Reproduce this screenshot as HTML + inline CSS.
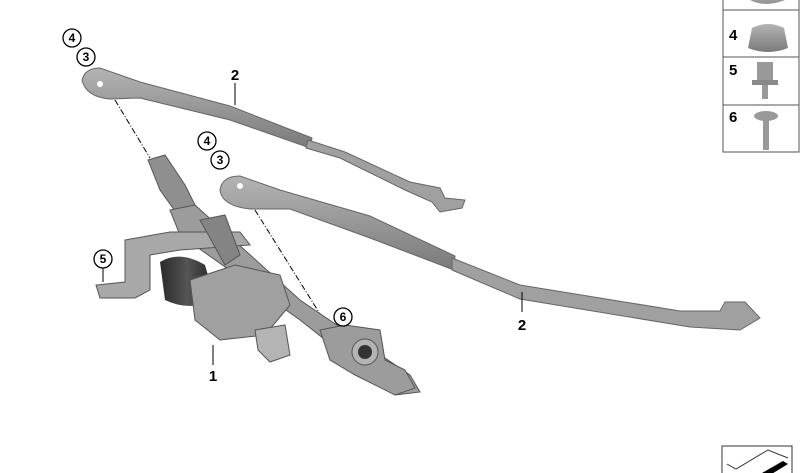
<!DOCTYPE html>
<html><head><meta charset="utf-8"><style>
html,body{margin:0;padding:0;background:#fff;}
svg{display:block}
text{font-family:"Liberation Sans",sans-serif;font-weight:bold;fill:#000}
</style></head><body>
<svg width="800" height="473" viewBox="0 0 800 473" xmlns="http://www.w3.org/2000/svg">
<defs>
<linearGradient id="g" x1="0" y1="0" x2="0" y2="1"><stop offset="0" stop-color="#b4b4b4"/><stop offset="1" stop-color="#7a7a7a"/></linearGradient>
<linearGradient id="m" x1="0" y1="0" x2="1" y2="0"><stop offset="0" stop-color="#2a2a2a"/><stop offset="0.5" stop-color="#555"/><stop offset="1" stop-color="#222"/></linearGradient>
</defs>
<!-- upper arm -->
<path d="M82,80 Q85,68 100,68 L140,82 L230,106 L312,138 L310,148 L230,120 L140,98 L110,99 Q86,97 82,80Z" fill="url(#g)" stroke="#666" stroke-width="1"/>
<path d="M308,140 L345,152 L410,182 L440,188 L445,198 L465,200 L462,208 L440,212 L432,202 L405,190 L340,158 L306,148Z" fill="#a0a0a0" stroke="#666"/>
<circle cx="100" cy="84" r="3" fill="#fff"/>
<!-- lower arm -->
<path d="M220,190 Q222,176 240,176 L280,190 L370,216 L455,256 L454,270 L370,238 L290,209 L250,209 Q222,206 220,190Z" fill="url(#g)" stroke="#666"/>
<path d="M452,258 L520,285 L680,311 L720,311 L725,302 L745,302 L760,318 L740,330 L690,327 L520,299 L452,270Z" fill="#a0a0a0" stroke="#666"/>
<circle cx="240" cy="186" r="3" fill="#fff"/>
<!-- dash-dot leader lines -->
<path d="M115,100 L150,158 M255,210 L330,330" stroke="#000" stroke-dasharray="6,2,1,2" stroke-width="1" fill="none"/>
<!-- linkage -->
<path d="M148,160 L165,155 L185,185 L200,215 L185,225 L160,190Z" fill="#8f8f8f" stroke="#555"/>
<path d="M170,210 L195,205 L300,300 L410,375 L420,392 L395,395 L300,320 L180,235Z" fill="#9c9c9c" stroke="#555"/>
<path d="M125,240 L170,232 L240,232 L250,245 L180,250 L150,255 L150,290 L135,298 L100,298 L96,285 L125,282Z" fill="#a8a8a8" stroke="#555"/>
<path d="M200,220 L225,215 L240,255 L225,265Z" fill="#848484" stroke="#555"/>
<!-- motor -->
<path d="M160,262 Q180,250 205,265 L215,300 Q190,312 165,300Z" fill="url(#m)"/>
<path d="M190,280 L235,265 L280,275 L290,305 L265,335 L220,340 L195,320Z" fill="#a0a0a0" stroke="#555"/>
<path d="M255,330 L285,325 L290,355 L270,362 L258,350Z" fill="#b4b4b4" stroke="#555"/>
<!-- right pivot -->
<path d="M320,330 L345,325 L380,330 L385,360 L405,370 L415,388 L395,395 L355,375 L330,360Z" fill="#9c9c9c" stroke="#555"/>
<circle cx="365" cy="352" r="13" fill="#b4b4b4" stroke="#555"/>
<circle cx="365" cy="352" r="7" fill="#333"/>
<!-- labels -->
<g stroke="#000" stroke-width="1.3" fill="#fff">
<circle cx="72" cy="38" r="9"/><circle cx="86" cy="57" r="9"/>
<circle cx="207" cy="141" r="9"/><circle cx="220" cy="160" r="9"/>
<circle cx="103" cy="259" r="9"/><circle cx="343" cy="317" r="9"/>
</g>
<g font-size="12" text-anchor="middle">
<text x="72" y="42">4</text><text x="86" y="61">3</text>
<text x="207" y="145">4</text><text x="220" y="164">3</text>
<text x="103" y="263">5</text><text x="343" y="321">6</text>
</g>
<g stroke="#000" stroke-width="1">
<line x1="235" y1="83" x2="235" y2="105"/><line x1="522" y1="292" x2="522" y2="312"/>
<line x1="213" y1="345" x2="213" y2="365"/><line x1="103" y1="268" x2="103" y2="282"/>
</g>
<g font-size="15" text-anchor="middle">
<text x="235" y="80">2</text><text x="522" y="330">2</text><text x="213" y="381">1</text>
</g>
<!-- legend -->
<g stroke="#555" stroke-width="1" fill="none">
<rect x="723" y="-2" width="76" height="154"/>
<line x1="723" y1="10" x2="799" y2="10"/><line x1="723" y1="57" x2="799" y2="57"/><line x1="723" y1="105" x2="799" y2="105"/>
</g>
<path d="M750,0 Q765,8 785,0Z" fill="#999"/>
<path d="M748,48 L752,28 Q768,20 784,28 L788,48 Q768,56 748,48Z" fill="url(#g)"/>
<rect x="757" y="62" width="16" height="18" fill="#999"/><rect x="752" y="80" width="26" height="5" fill="#888"/><rect x="762" y="85" width="6" height="14" fill="#999"/>
<ellipse cx="766" cy="116" rx="12" ry="5" fill="#999"/><rect x="763" y="120" width="6" height="30" fill="#999"/>
<g font-size="15"><text x="729" y="40">4</text><text x="729" y="75">5</text><text x="729" y="122">6</text></g>
<!-- corner icon -->
<rect x="722" y="446" width="70" height="30" fill="#fff" stroke="#333"/>
<path d="M727,464 L736,469 L768,450 L788,458" fill="none" stroke="#333" stroke-width="1"/>
<path d="M762,473 L783,461 L788,464 L770,475Z" fill="#000"/>
</svg>
</body></html>
